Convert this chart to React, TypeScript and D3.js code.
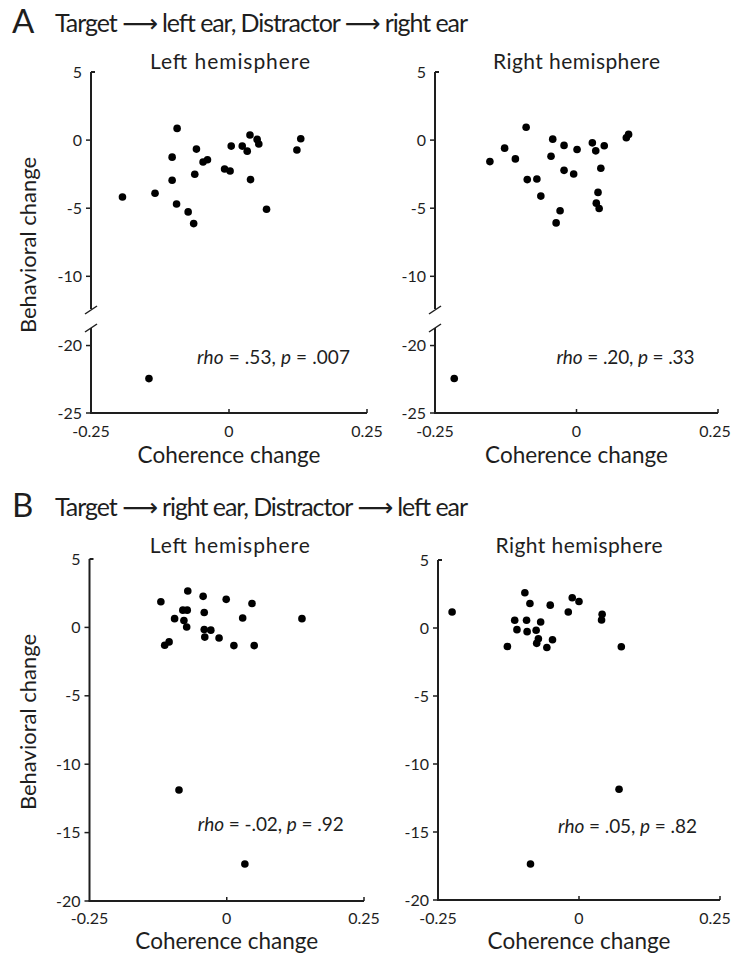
import * as d3 from "d3";

// ---- data ----
const xTicks = [-0.25, 0, 0.25];
const yTicksAUpper = [5, 0, -5, -10];
const yTicksALower = [-20, -25];
const yTicksB = [5, 0, -5, -10, -15, -20];

const headers = [
  "Target \u27F6 left ear, Distractor \u27F6 right ear",
  "Target \u27F6 right ear, Distractor \u27F6 left ear",
];
const hemispheres = ["Left hemisphere", "Right hemisphere"];

// A: target left ear
const aLeftX = [-0.193, -0.134, -0.094, -0.103, -0.103, -0.095, -0.074, -0.064, -0.062, -0.059, -0.047, -0.039, -0.008, 0.002, 0.004, 0.024, 0.033, 0.038, 0.039, 0.051, 0.054, 0.068, 0.123, 0.13, -0.145];
const aLeftY = [-4.18, -3.9, 0.86, -1.25, -2.95, -4.69, -5.27, -6.13, -2.51, -0.66, -1.61, -1.44, -2.12, -2.27, -0.44, -0.44, -0.81, 0.37, -2.9, 0.05, -0.29, -5.08, -0.73, 0.1, -22.45];
const aRightX = [-0.153, -0.127, -0.108, -0.089, -0.087, -0.07, -0.063, -0.042, -0.045, -0.029, -0.036, -0.022, -0.022, -0.005, 0.001, 0.028, 0.034, 0.049, 0.043, 0.038, 0.035, 0.04, 0.088, 0.092, -0.216];
const aRightY = [-1.58, -0.59, -1.38, 0.94, -2.9, -2.86, -4.11, 0.07, -1.18, -5.19, -6.08, -0.39, -2.22, -2.49, -0.69, -0.2, -0.79, -0.42, -2.07, -3.84, -4.63, -5.02, 0.17, 0.42, -22.44];

// B: target right ear
const bLeftX = [-0.12, -0.071, -0.043, -0.001, 0.046, -0.08, -0.072, -0.041, -0.095, -0.078, -0.073, 0.029, 0.137, -0.041, -0.029, -0.04, -0.014, -0.113, -0.105, 0.013, 0.05, -0.087, 0.033];
const bLeftY = [1.88, 2.66, 2.27, 2.05, 1.75, 1.26, 1.26, 1.09, 0.64, 0.5, 0.03, 0.69, 0.64, -0.15, -0.2, -0.71, -0.78, -1.3, -1.06, -1.33, -1.33, -11.89, -17.3];
const bRightX = [-0.225, -0.096, -0.087, -0.051, -0.012, 0.0, -0.019, -0.114, -0.093, -0.068, -0.11, -0.092, -0.076, -0.072, -0.075, -0.047, -0.057, -0.127, 0.041, 0.04, 0.075, 0.071, -0.086];
const bRightY = [1.18, 2.59, 1.8, 1.68, 2.22, 1.95, 1.18, 0.57, 0.57, 0.44, -0.12, -0.27, -0.17, -0.79, -1.13, -0.86, -1.43, -1.36, 1.01, 0.59, -1.38, -11.86, -17.35];

const rhoValues = [".53", ".20", "-.02", ".05"];
const pValues = [".007", ".33", ".92", ".82"];

// ---- layout ----
const FONT = "Lato, 'Open Sans', 'DejaVu Sans', sans-serif";
const INK = "#1e1e1e";
const W = 733;

type Seg = { domain: [number, number]; range: [number, number]; ticks: number[] };

type PanelProps = {
  x0: number;
  x1: number;
  segs: Seg[];
  xs: number[];
  ys: number[];
  title: string;
  titleY: number;
  titleDx: number;
  titleLen: number;
  statIdx: number;
  statY: number;
  statDx: number;
  statLen: number;
  tickLabelY: number;
  axisTitleY: number;
};

function Panel(p: PanelProps) {
  const x = d3.scaleLinear().domain([-0.25, 0.25]).range([p.x0, p.x1]);
  const scales = p.segs.map((s) => d3.scaleLinear().domain(s.domain).range(s.range));
  const yBottom = p.segs[p.segs.length - 1].range[0];
  const ax = p.x0;
  const pts = p.xs.map((xv, i) => {
    const yv = p.ys[i];
    let k = p.segs.findIndex((s) => yv >= s.domain[0] && yv <= s.domain[1]);
    if (k < 0) k = 0;
    return { cx: x(xv), cy: scales[k](yv) };
  });
  return (
    <g>
      <text x={x(0) + p.titleDx} y={p.titleY} textAnchor="middle" fontSize={21} fill={INK} fontFamily={FONT}
        textLength={p.titleLen} lengthAdjust="spacing">
        {p.title}
      </text>
      {p.segs.map((s, k) => {
        const sc = scales[k];
        const top = s.range[1];
        const bot = s.range[0];
        return (
          <g key={k}>
            <line x1={ax} x2={ax} y1={top} y2={bot} stroke={INK} strokeWidth={2} />
            {s.ticks.map((t) => {
              const yy = sc(t);
              const isTop = k === 0 && t === s.domain[1];
              return (
                <g key={t}>
                  {isTop ? (
                    <line x1={ax} x2={ax + 4} y1={yy} y2={yy} stroke={INK} strokeWidth={2} />
                  ) : (
                    <line x1={ax - 5} x2={ax} y1={yy} y2={yy} stroke={INK} strokeWidth={1.5} />
                  )}
                  <text x={ax - 9} y={yy + 5.5} textAnchor="end" fontSize={16} fill={INK} fontFamily={FONT}>
                    {String(t)}
                  </text>
                </g>
              );
            })}
            {p.segs.length > 1 && k === 0 && (
              <line x1={ax - 6} y1={bot + 5} x2={ax + 6} y2={bot - 3} stroke={INK} strokeWidth={1.5} />
            )}
            {p.segs.length > 1 && k > 0 && (
              <line x1={ax - 6} y1={top + 4} x2={ax + 6} y2={top - 4} stroke={INK} strokeWidth={1.5} />
            )}
          </g>
        );
      })}
      <line x1={p.x0 - 1} x2={p.x1} y1={yBottom} y2={yBottom} stroke={INK} strokeWidth={2} />
      {xTicks.map((t) => (
        <g key={t}>
          {t !== -0.25 && (
            <line x1={x(t)} x2={x(t)} y1={yBottom} y2={yBottom - 4} stroke={INK} strokeWidth={1.5} />
          )}
          <text x={Math.min(x(t), W - 18)} y={p.tickLabelY} textAnchor="middle" fontSize={16} fill={INK} fontFamily={FONT}>
            {String(t)}
          </text>
        </g>
      ))}
      <text x={x(0)} y={p.axisTitleY} textAnchor="middle" fontSize={22.5} fill={INK} fontFamily={FONT}>
        Coherence change
      </text>
      {pts.map((d, i) => (
        <circle key={i} cx={d.cx} cy={d.cy} r={3.8} fill="#000" />
      ))}
      <text x={x(0) + p.statDx} y={p.statY} fontSize={19} fill={INK} fontFamily={FONT}
        textLength={p.statLen} lengthAdjust="spacing">
        <tspan fontStyle="italic">rho</tspan>
        {` = ${rhoValues[p.statIdx]}, `}
        <tspan fontStyle="italic">p</tspan>
        {` = ${pValues[p.statIdx]}`}
      </text>
    </g>
  );
}

const segsA = (): Seg[] => [
  { domain: [-12.4, 5], range: [309, 72], ticks: yTicksAUpper },
  { domain: [-25, -18.7], range: [413, 328], ticks: yTicksALower },
];
const segsB = (top: number, bot: number): Seg[] => [{ domain: [-20, 5], range: [bot, top], ticks: yTicksB }];

export default function App() {
  return (
    <svg width={W} height={957} style={{ display: "block", position: "absolute", left: 0, top: 0, background: "#fff" }}>
      <rect width={W} height={957} fill="#fff" />
      {/* Row A */}
      <text x={12} y={33} fontSize={33} fill={INK} fontFamily={FONT}>A</text>
      <text x={55} y={32} fontSize={25} fill={INK} fontFamily={FONT} textLength={413} lengthAdjust="spacing">
        {headers[0]}
      </text>
      <text transform="translate(36,245) rotate(-90)" textAnchor="middle" fontSize={22} fill={INK} fontFamily={FONT}>
        Behavioral change
      </text>
      <Panel x0={91} x1={367} segs={segsA()} xs={aLeftX} ys={aLeftY} title={hemispheres[0]} titleY={69} titleDx={1} titleLen={160}
        statIdx={0} statY={364} statDx={-32} statLen={153} tickLabelY={437} axisTitleY={463} />
      <Panel x0={435} x1={718} segs={segsA()} xs={aRightX} ys={aRightY} title={hemispheres[1]} titleY={69} titleDx={0} titleLen={167}
        statIdx={1} statY={364} statDx={-20} statLen={138} tickLabelY={437} axisTitleY={463} />

      {/* Row B */}
      <text x={12} y={517} fontSize={33} fill={INK} fontFamily={FONT}>B</text>
      <text x={55} y={516} fontSize={25} fill={INK} fontFamily={FONT} textLength={413} lengthAdjust="spacing">
        {headers[1]}
      </text>
      <text transform="translate(36,722) rotate(-90)" textAnchor="middle" fontSize={22} fill={INK} fontFamily={FONT}>
        Behavioral change
      </text>
      <Panel x0={89.5} x1={364} segs={segsB(559, 901)} xs={bLeftX} ys={bLeftY} title={hemispheres[0]} titleY={553} titleDx={3} titleLen={160}
        statIdx={2} statY={831} statDx={-29} statLen={146} tickLabelY={924} axisTitleY={949} />
      <Panel x0={438} x1={720} segs={segsB(560, 900)} xs={bRightX} ys={bRightY} title={hemispheres[1]} titleY={553} titleDx={0} titleLen={167}
        statIdx={3} statY={833} statDx={-21} statLen={139} tickLabelY={924} axisTitleY={949} />
    </svg>
  );
}
